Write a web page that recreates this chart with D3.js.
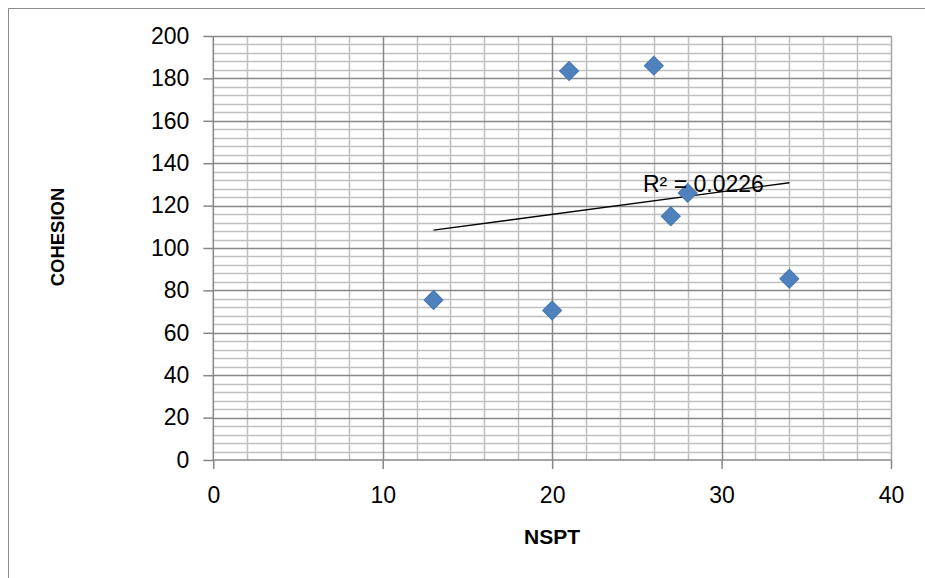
<!DOCTYPE html>
<html>
<head>
<meta charset="utf-8">
<script src="https://cdn.jsdelivr.net/npm/d3@7"></script>
<style>
  html, body { margin: 0; padding: 0; background: #ffffff; }
  svg text { font-family: "Liberation Sans", Arial, sans-serif; fill: #000; }
</style>
</head>
<body>
<svg id="chart" width="925" height="578"></svg>
<script>
// ---- data ----
const nspt = [13, 20, 21, 26, 27, 28, 34];
const cohesion = [75.5, 70.5, 183.5, 186, 115, 126, 85.5];
const xTicks = [0, 10, 20, 30, 40];
const yTicks = [0, 20, 40, 60, 80, 100, 120, 140, 160, 180, 200];
const xMinorStep = 2;
const yMinorStep = 4;
const r2Label = "R² = 0.0226";
const xTitle = "NSPT";
const yTitle = "COHESION";

// ---- layout ----
const svg = d3.select("#chart");
const W = 925, H = 578;
const plot = { left: 213.3, right: 891, top: 36, bottom: 460 };

svg.append("rect").attr("x", 0).attr("y", 0).attr("width", W).attr("height", H).attr("fill", "#fff");
// outer chart frame
svg.append("rect").attr("x", 8.5).attr("y", 8.5).attr("width", 1000).attr("height", 1000)
  .attr("fill", "none").attr("stroke", "#8c8c8c").attr("stroke-width", 1);

const x = d3.scaleLinear().domain([0, 40]).range([plot.left, plot.right]);
const y = d3.scaleLinear().domain([0, 200]).range([plot.bottom, plot.top]);

const g = svg.append("g");

// minor grid
const xMinor = d3.range(0, 40 + 1e-9, xMinorStep).filter(v => v % 10 !== 0);
const yMinor = d3.range(0, 200 + 1e-9, yMinorStep).filter(v => v % 20 !== 0);
g.selectAll(".xminor").data(xMinor).enter().append("line")
  .attr("x1", d => Math.round(x(d)) + 0.5).attr("x2", d => Math.round(x(d)) + 0.5)
  .attr("y1", plot.top).attr("y2", plot.bottom)
  .attr("stroke", "#c0c0c0").attr("stroke-width", 1.5);
g.selectAll(".yminor").data(yMinor).enter().append("line")
  .attr("x1", plot.left).attr("x2", plot.right)
  .attr("y1", d => Math.round(y(d)) + 0.5).attr("y2", d => Math.round(y(d)) + 0.5)
  .attr("stroke", "#c0c0c0").attr("stroke-width", 1.5);

// major grid
g.selectAll(".xmajor").data(xTicks.filter(v => v !== 0)).enter().append("line")
  .attr("x1", d => Math.round(x(d)) + 0.5).attr("x2", d => Math.round(x(d)) + 0.5)
  .attr("y1", plot.top).attr("y2", plot.bottom)
  .attr("stroke", d => d === 40 ? "#a6a6a6" : "#878787").attr("stroke-width", 1.5);
g.selectAll(".ymajor").data(yTicks.filter(v => v !== 0)).enter().append("line")
  .attr("x1", plot.left).attr("x2", plot.right)
  .attr("y1", d => Math.round(y(d)) + 0.5).attr("y2", d => Math.round(y(d)) + 0.5)
  .attr("stroke", "#878787").attr("stroke-width", 1.5);

// axes
const yAxis = d3.axisLeft(y).tickValues(yTicks).tickSize(10).tickPadding(14).tickFormat(d3.format("d"));
const xAxis = d3.axisBottom(x).tickValues(xTicks).tickSize(9).tickPadding(18).tickFormat(d3.format("d"));

const ya = svg.append("g").attr("transform", `translate(${plot.left},0)`).call(yAxis);
const xa = svg.append("g").attr("transform", `translate(0,${plot.bottom})`).call(xAxis);
[ya, xa].forEach(a => {
  a.select(".domain").attr("stroke", "#878787").attr("stroke-width", 1.5);
  a.selectAll(".tick line").attr("stroke", "#878787").attr("stroke-width", 1.5);
  a.selectAll(".tick text").style("font-size", "23px").attr("fill", "#000")
    .style("font-family", "'Liberation Sans', Arial, sans-serif");
});
ya.select(".domain").attr("d", `M0,${plot.top}V${plot.bottom}`);
xa.select(".domain").attr("d", `M${plot.left},0H${plot.right}`);

// trendline (least squares)
const mx = d3.mean(nspt), my = d3.mean(cohesion);
const sxy = d3.sum(nspt.map((v, i) => (v - mx) * (cohesion[i] - my)));
const sxx = d3.sum(nspt.map(v => (v - mx) * (v - mx)));
const slope = sxy / sxx, intercept = my - slope * mx;
const xr = d3.extent(nspt);
svg.append("line")
  .attr("x1", x(xr[0])).attr("y1", y(intercept + slope * xr[0]))
  .attr("x2", x(xr[1])).attr("y2", y(intercept + slope * xr[1]))
  .attr("stroke", "#000").attr("stroke-width", 1.4);

// points
const sym = d3.symbol().type(d3.symbolSquare).size(180);
svg.selectAll(".pt").data(nspt).enter().append("path")
  .attr("d", sym)
  .attr("transform", (d, i) => `translate(${x(d)},${y(cohesion[i])}) rotate(45)`)
  .attr("fill", "#4f81bd").attr("stroke", "#4677b4").attr("stroke-width", 1);

// R² label
svg.append("text").attr("x", 643).attr("y", 192).style("font-size", "23px").text(r2Label);

// titles
svg.append("text").attr("x", 552).attr("y", 544).attr("text-anchor", "middle")
  .style("font-size", "21px").style("font-weight", "bold").text(xTitle);
svg.append("text").attr("transform", "translate(64,237) rotate(-90)").attr("text-anchor", "middle")
  .style("font-size", "18.5px").style("font-weight", "bold").text(yTitle);
</script>
</body>
</html>
